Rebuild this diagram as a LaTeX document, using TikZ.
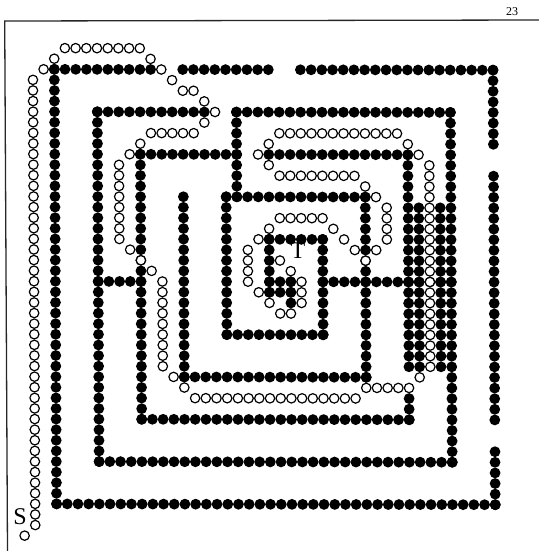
\documentclass[tikz,border=0pt]{standalone}
\usepackage{fontspec}
\setmainfont{Liberation Serif}
\newlength{\pxu}
\setlength{\pxu}{0.75pt}
\tikzset{
  wall/.style={fill=black,draw=none},
  trail/.style={fill=white,draw=black,line width=1.2\pxu},
  frameline/.style={draw=black!85,line width=1.3\pxu},
  big/.style={inner sep=0pt,font=\fontsize{18pt}{20pt}\selectfont},
  small/.style={inner sep=0pt,font=\fontsize{9pt}{11pt}\selectfont}
}
\begin{document}
\begin{tikzpicture}[x=\pxu,y=\pxu]
\useasboundingbox (0,0) rectangle (539,-551);
\fill[white] (0,0) rectangle (539,-551);
\coordinate (fa) at (539,-20);
\coordinate (fb) at (4.7,-21);
\coordinate (fc) at (7.5,-551);
\draw[frameline] (fa) -- (fb) -- (fc);
\node[small] (page) at (512,-12) {23};
\begin{scope}[shift={(54.3,-69.3)},x={(10.7\pxu,-0.02\pxu)},y={(0.055\pxu,-10.6\pxu)}]
% walls: rows j/a/b
\foreach \j/\a/\b in {0/0/9,0/12/20,0/23/41,41/0/41,4/4/14,4/17/37,37/4/37,8/8/17,8/20/33,12/16/29,25/16/25,16/20/25,29/12/29,33/8/33,20/4/8,20/25/37,20/20/22,21/20/22}
  \foreach \i in {\a,...,\b} \path[wall] (\i,\j) circle[radius=5.4\pxu];
% walls: columns i/a/b
\foreach \i/\a/\b in {0/0/41,41/0/7,41/10/33,41/36/41,37/4/37,4/4/37,17/4/12,16/12/25,25/16/25,20/16/21,22/20/22,29/12/29,12/12/29,8/8/33,33/8/28,33/31/33,34/13/28,36/13/28}
  \foreach \j in {\a,...,\b} \path[wall] (\i,\j) circle[radius=5.4\pxu];
% trail: rows
\foreach \j/\a/\b in {-2/1/8,6/9/13,31/13/28,30/29/33,6/21/32,10/21/28,14/21/25}
  \foreach \i in {\a,...,\b} \path[trail] (\i,\j) circle[radius=4.7\pxu];
% trail: columns
\foreach \i/\a/\b in {-2/1/43,6/9/16,10/20/28,35/9/28,31/13/16,18/17/20}
  \foreach \j in {\a,...,\b} \path[trail] (\i,\j) circle[radius=4.7\pxu];
% trail: single cells
\foreach \i/\j in {-3/44,-1/0,0/-1,9/-1,10/0,11/1,12/2,13/2,14/3,15/4,14/5,8/7,7/8,7/17,8/18,9/19,11/29,12/30,34/29,34/8,33/7,20/7,19/8,20/9,29/11,30/12,30/17,28/17,29/18,27/16,26/15,20/15,19/16,19/21,20/22,21/23,22/23,23/22,23/21,23/20,22/19,21/18}
  \path[trail] (\i,\j) circle[radius=4.7\pxu];
\end{scope}
\node[big] (s) at (20,-517) {S};
\node[big] (t) at (298,-251) {T};
\end{tikzpicture}
\end{document}
